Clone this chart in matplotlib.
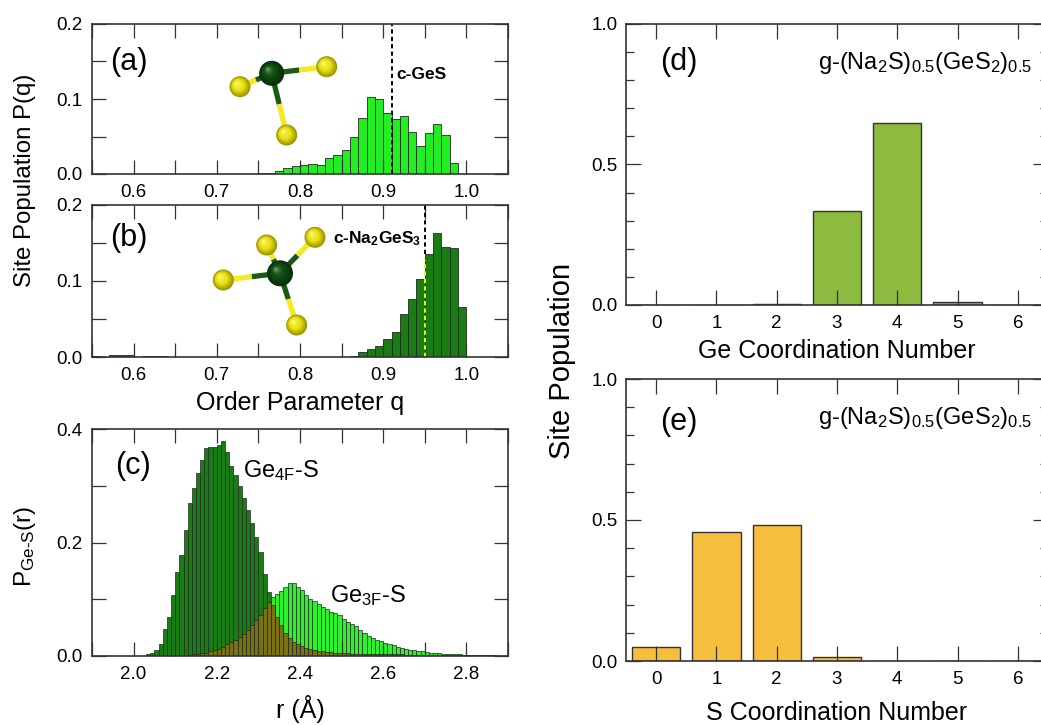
import numpy as np
import matplotlib
matplotlib.use('Agg')
import matplotlib.pyplot as plt
from matplotlib.patches import Circle
from matplotlib.ticker import MultipleLocator

plt.rcParams['font.family'] = ['Liberation Sans', 'DejaVu Sans']
plt.rcParams['mathtext.fontset'] = 'custom'
plt.rcParams['mathtext.rm'] = 'Liberation Sans'
plt.rcParams['mathtext.it'] = 'Liberation Sans:italic'
plt.rcParams['mathtext.bf'] = 'Liberation Sans:bold'
plt.rcParams['mathtext.default'] = 'regular'

# ---- data ----
# (a) 3-fold Ge order parameter histogram (bin left edges, width 0.01)
q_a = [0.69, 0.70, 0.74, 0.75, 0.76, 0.77, 0.78, 0.79, 0.80, 0.81, 0.82, 0.83,
       0.84, 0.85, 0.86, 0.87, 0.88, 0.89, 0.90, 0.91, 0.92, 0.93, 0.94, 0.95,
       0.96, 0.97, 0.98]
p_a = [0.0006, 0.0006, 0.0006, 0.0008, 0.002, 0.0035, 0.008, 0.011, 0.012, 0.014,
       0.012, 0.021, 0.026, 0.032, 0.050, 0.075, 0.103, 0.100, 0.081, 0.073,
       0.078, 0.056, 0.038, 0.055, 0.067, 0.052, 0.015]
q_cGeS = 0.91

# (b) 4-fold Ge order parameter histogram
q_b = [0.55, 0.57, 0.58, 0.59, 0.61, 0.62, 0.63, 0.85, 0.86, 0.87, 0.88, 0.89,
       0.90, 0.91, 0.92, 0.93, 0.94, 0.95, 0.96, 0.97, 0.98, 0.99]
p_b = [0.001, 0.002, 0.003, 0.002, 0.001, 0.0015, 0.001, 0.0006, 0.0008, 0.006,
       0.011, 0.015, 0.024, 0.033, 0.056, 0.076, 0.103, 0.135, 0.163, 0.145,
       0.144, 0.066]
q_cNa2GeS3 = 0.95

# (c) Ge-S bond length distributions (bin width 0.01 A)
r_4F_start, r_3F_start, r_bin = 2.03, 2.13, 0.01
p_4F = [0.003, 0.005, 0.010, 0.022, 0.048, 0.069, 0.107, 0.148, 0.178, 0.222,
        0.269, 0.296, 0.322, 0.346, 0.366, 0.369, 0.369, 0.372, 0.378, 0.360,
        0.334, 0.319, 0.299, 0.278, 0.257, 0.234, 0.210, 0.184, 0.145, 0.112,
        0.090, 0.069, 0.054, 0.040, 0.031, 0.025, 0.021, 0.017, 0.014, 0.012,
        0.010, 0.009, 0.008, 0.007, 0.007, 0.006, 0.005, 0.005,
        0.005, 0.004, 0.004, 0.004, 0.004, 0.004, 0.003, 0.003, 0.003, 0.003,
        0.003, 0.003, 0.003, 0.003, 0.002, 0.002, 0.002, 0.002, 0.002, 0.002,
        0.002, 0.002, 0.002, 0.002, 0.002, 0.001, 0.001, 0.001, 0.001, 0.001,
        0.001, 0.001, 0.001, 0.001, 0.001, 0.001]
p_3F = [0.002, 0.003, 0.004, 0.005, 0.006, 0.008, 0.010, 0.013, 0.016, 0.021,
        0.025, 0.029, 0.034, 0.039, 0.046, 0.054, 0.063, 0.072, 0.084, 0.095,
        0.104, 0.110, 0.114, 0.122, 0.128, 0.128, 0.121, 0.116, 0.107, 0.101,
        0.097, 0.092, 0.087, 0.082, 0.078, 0.076, 0.073, 0.066, 0.060, 0.056,
        0.052, 0.045, 0.041, 0.036, 0.032, 0.029, 0.027, 0.023, 0.021, 0.019,
        0.016, 0.014, 0.012, 0.011, 0.010, 0.009, 0.008, 0.007, 0.006, 0.005,
        0.005, 0.004, 0.004, 0.003, 0.003, 0.003, 0.002, 0.002, 0.002, 0.001,
        0.001, 0.001, 0.001, 0.001]

# (d), (e) coordination number populations
cn = [0, 1, 2, 3, 4, 5, 6]
pop_Ge = [0.0, 0.0, 0.002, 0.335, 0.649, 0.012, 0.0]
pop_S = [0.050, 0.456, 0.483, 0.013, 0.0, 0.0, 0.0]

glass = r'g-(Na$_2$S)$_{0.5}$(GeS$_2$)$_{0.5}$'

# ---- figure ----
W, H = 1041, 725
fig = plt.figure(figsize=(W / 100, H / 100), dpi=100)


def px_axes(l, r, t, b):
    return fig.add_axes([l / W, 1 - b / H, (r - l) / W, (b - t) / H])


ax_a = px_axes(92, 508, 24, 174)
ax_b = px_axes(92, 508, 205, 357)
ax_c = px_axes(92, 508, 429, 656)
ax_d = px_axes(626, 1048, 24, 305)
ax_e = px_axes(626, 1048, 379, 661)

spine_col = '#333333'
for ax in (ax_a, ax_b, ax_c, ax_d, ax_e):
    for s in ax.spines.values():
        s.set_linewidth(1.2)
        s.set_color(spine_col)
    ax.tick_params(which='both', direction='in', top=True, right=True,
                   width=0.9, color=spine_col, labelsize=13.5)

edge = '#1f2a1f'
# (a)
ax_a.bar(q_a, p_a, width=0.01, align='edge', color='#22ee22', edgecolor=edge, lw=0.6)
ax_a.plot([q_cGeS, q_cGeS], [0, 0.2], color='k', ls=(0, (2.2, 1.6)), lw=1.4)
ax_a.text(q_cGeS + 0.0055, 0.127, 'c-GeS', fontsize=12.5, fontweight='bold', va='baseline')

# (b)
ax_b.bar(q_b, p_b, width=0.01, align='edge', color='#1a7d14', edgecolor=edge, lw=0.6)
h_b = p_b[q_b.index(q_cNa2GeS3)]
ax_b.plot([q_cNa2GeS3] * 2, [h_b, 0.2], color='k', ls=(0, (2.2, 1.6)), lw=1.4)
ax_b.plot([q_cNa2GeS3] * 2, [0, h_b - 0.008], color='#f5f020', ls=(0, (2.2, 1.6)), lw=1.4)
ax_b.text(q_cNa2GeS3 - 0.004, 0.149, r'c-Na$_\mathbf{2}$GeS$_\mathbf{3}$', fontsize=12.5,
          fontweight='bold', va='baseline', ha='right')

for ax in (ax_a, ax_b):
    ax.set_xlim(0.55, 1.05)
    ax.set_ylim(0, 0.2)
    ax.xaxis.set_major_locator(MultipleLocator(0.1))
    ax.xaxis.set_minor_locator(MultipleLocator(0.05))
    ax.yaxis.set_major_locator(MultipleLocator(0.1))
    ax.yaxis.set_minor_locator(MultipleLocator(0.05))
    ax.tick_params(which='both', length=10, pad=7)
    ax.xaxis.set_major_formatter('{x:.1f}')
    ax.yaxis.set_major_formatter('{x:.1f}')

# (c)
r_4F = r_4F_start + r_bin * np.arange(len(p_4F))
r_3F = r_3F_start + r_bin * np.arange(len(p_3F))
off = int(round((r_3F_start - r_4F_start) / r_bin))
overlap = np.minimum(np.array(p_4F[off:off + len(p_3F)]), np.array(p_3F))
ax_c.bar(r_4F, p_4F, width=r_bin, align='edge', color='#1a7d14', edgecolor=edge, lw=0.5)
ax_c.bar(r_3F, p_3F, width=r_bin, align='edge', color='#2cf22c', edgecolor=edge, lw=0.5)
ax_c.bar(r_3F, overlap, width=r_bin, align='edge', color='#7a7212', edgecolor=edge, lw=0.5)
ax_c.set_xlim(1.9, 2.9)
ax_c.set_ylim(0, 0.4)
ax_c.xaxis.set_major_locator(MultipleLocator(0.2))
ax_c.xaxis.set_minor_locator(MultipleLocator(0.1))
ax_c.yaxis.set_major_locator(MultipleLocator(0.2))
ax_c.yaxis.set_minor_locator(MultipleLocator(0.1))
ax_c.tick_params(which='both', length=10, pad=7)
ax_c.xaxis.set_major_formatter('{x:.1f}')
ax_c.yaxis.set_major_formatter('{x:.1f}')
ax_c.text(2.263, 0.315, r'Ge$_{4F}$-S', fontsize=17, va='baseline')
ax_c.text(2.471, 0.0954, r'Ge$_{3F}$-S', fontsize=17, va='baseline')

# (d), (e)
ax_d.bar(cn, pop_Ge, width=0.8, color='#8cbb3f', edgecolor='#333333', lw=1.0)
ax_e.bar(cn, pop_S, width=0.8, color='#f6be3c', edgecolor='#333333', lw=1.0)
for ax in (ax_d, ax_e):
    ax.set_xlim(-0.5, 6.5)
    ax.set_ylim(0, 1.0)
    ax.set_xticks(cn)
    ax.yaxis.set_major_locator(MultipleLocator(0.5))
    ax.yaxis.set_minor_locator(MultipleLocator(0.1))
    ax.tick_params(axis='y', which='major', length=11, pad=6)
    ax.tick_params(axis='y', which='minor', length=6)
    ax.tick_params(axis='x', which='major', length=11, pad=7)
    ax.yaxis.set_major_formatter('{x:.1f}')
    ax.text(0.455, 0.84, glass, transform=ax.transAxes, fontsize=17, va='baseline')

# panel letters
for ax, lab, x, y in ((ax_a, '(a)', 0.043, 0.747), (ax_b, '(b)', 0.043, 0.78),
                      (ax_c, '(c)', 0.055, 0.837), (ax_d, '(d)', 0.081, 0.865),
                      (ax_e, '(e)', 0.081, 0.848)):
    ax.text(x, y, lab, transform=ax.transAxes, fontsize=22, va='center', ha='left')

# axis labels
fig.text(25 / W, 1 - 180 / H, 'Site Population P(q)', rotation=90, fontsize=17.3,
         ha='center', va='center')
fig.text(25 / W, 1 - 546 / H, 'P$_{\\mathrm{Ge\u2010S}}$(r)', rotation=90, fontsize=17.5,
         ha='center', va='center')
fig.text(562 / W, 1 - 361 / H, 'Site Population', rotation=90, fontsize=21,
         ha='center', va='center')
fig.text(300 / W, 1 - 410 / H, 'Order Parameter q', fontsize=18, ha='center', va='baseline')
fig.text(300 / W, 1 - 718 / H, 'r (\u00c5)', fontsize=18, ha='center', va='baseline')
fig.text(837 / W, 1 - 358 / H, 'Ge Coordination Number', fontsize=18, ha='center',
         va='baseline')
fig.text(837 / W, 1 - 720 / H, 'S Coordination Number', fontsize=18, ha='center',
         va='baseline')

# ---- ball-and-stick insets (drawn in figure pixel space) ----
mol = fig.add_axes([0, 0, 1, 1], zorder=10)
mol.set_xlim(0, W)
mol.set_ylim(H, 0)
mol.axis('off')
mol.patch.set_alpha(0)


def ball(x, y, r, c_edge, c_mid, c_hi, n=14):
    c_edge, c_mid, c_hi = map(np.array, (c_edge, c_mid, c_hi))
    for i in range(n):
        f = i / n
        col = c_edge + (c_mid - c_edge) * min(1, f * 2.2) if f < 0.45 else \
            c_mid + (c_hi - c_mid) * ((f - 0.45) / 0.55) ** 2
        rr = r * (1 - f)
        mol.add_patch(Circle((x - 0.35 * r * f, y - 0.35 * r * f), rr,
                             color=np.clip(col, 0, 1), lw=0, zorder=3 + f))


def molecule(ge, s_list, r_ge, r_s):
    for sx, sy in s_list:
        mx, my = (ge[0] + sx) / 2, (ge[1] + sy) / 2
        mol.plot([ge[0], mx], [ge[1], my], color='#1d5a18', lw=3.8, solid_capstyle='butt', zorder=2)
        mol.plot([mx, sx], [my, sy], color='#f2ea22', lw=3.8, solid_capstyle='butt', zorder=2)
    for sx, sy in s_list:
        ball(sx, sy, r_s, (0.62, 0.58, 0.0), (0.93, 0.90, 0.08), (1.0, 1.0, 0.8))
    ball(ge[0], ge[1], r_ge, (0.02, 0.18, 0.03), (0.06, 0.30, 0.07), (0.55, 0.75, 0.55))


molecule((271.7, 73.3), [(326.7, 66.7), (240.0, 86.7), (286.7, 135.0)], 12.5, 10.5)
molecule((280.0, 273.3), [(266.7, 245.0), (315.0, 237.3), (223.3, 280.0), (296.7, 325.0)],
         13.0, 10.5)

fig.savefig('out.png', dpi=100)
